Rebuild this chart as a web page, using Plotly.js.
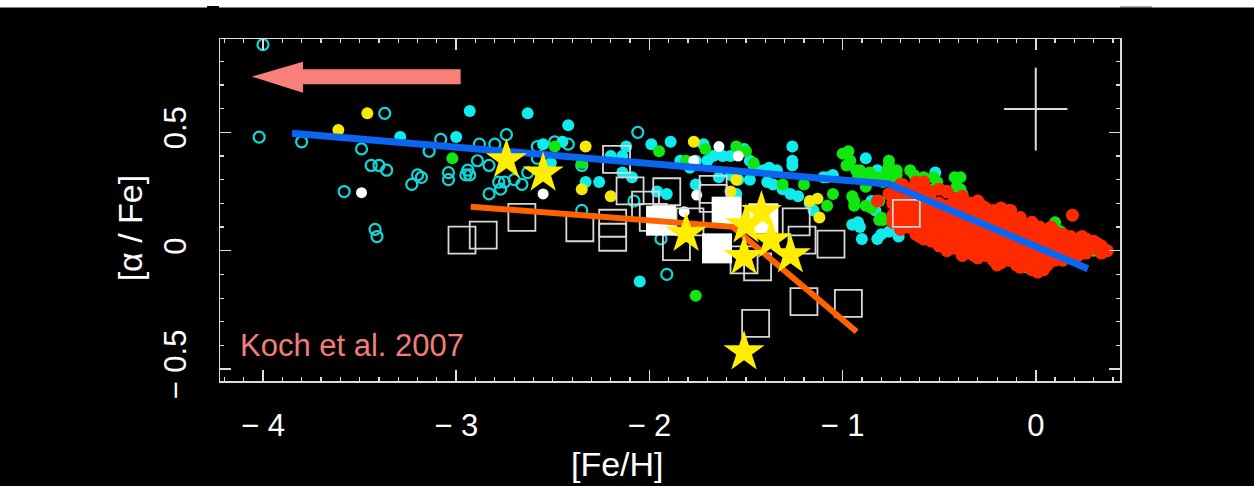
<!DOCTYPE html>
<html>
<head>
<meta charset="utf-8">
<script src="https://cdn.plot.ly/plotly-3.0.1.min.js"></script>
<style>html,body{margin:0;padding:0;background:#000;}#chart{width:1254px;height:486px;}</style>
</head>
<body>
<div id="chart"></div>
<script>
// ---- data ----
const xTickVals = [-4, -3, -2, -1, 0];
const xTickText = ['\u2212 4', '\u2212 3', '\u2212 2', '\u2212 1', '0'];
const yTickVals = [-0.5, 0, 0.5];
const yTickText = ['\u2212 0.5', '0', '0.5'];

const cyanOpen = [[-4.00,0.87],[-4.02,0.48],[-3.80,0.46],[-3.37,0.58],[-3.49,0.43],[-3.44,0.36],[-3.40,0.36],[-3.36,0.34],[-3.58,0.25],[-3.42,0.09],[-3.41,0.06],[-3.14,0.42],[-3.08,0.47],[-3.20,0.32],[-3.18,0.31],[-3.23,0.28],[-3.04,0.33],[-3.04,0.30],[-2.94,0.34],[-2.93,0.32],[-2.95,0.32],[-2.89,0.38],[-2.88,0.45],[-2.80,0.45],[-2.74,0.49],[-2.83,0.36],[-2.83,0.24],[-2.77,0.26],[-2.78,0.29],[-2.75,0.29],[-2.70,0.30],[-2.66,0.28],[-2.63,0.33],[-2.58,0.39],[-2.58,0.44],[-2.49,0.46],[-2.42,0.45],[-2.35,0.17],[-2.35,0.36],[-2.08,0.21],[-2.06,0.50],[-1.94,0.05],[-1.91,-0.10]];

const cyanFilled = [[-2.93,0.59],[-2.63,0.58],[-2.42,0.53],[-3.00,0.48],[-3.29,0.48],[-2.55,0.45],[-2.45,0.46],[-2.51,0.37],[-2.33,0.29],[-2.26,0.29],[-2.20,0.40],[-2.14,0.40],[-2.12,0.44],[-2.14,0.33],[-2.09,0.31],[-1.99,0.45],[-1.89,0.46],[-1.96,0.25],[-1.91,0.24],[-1.84,0.38],[-1.79,0.35],[-1.76,0.38],[-1.76,0.28],[-1.72,0.45],[-1.70,0.38],[-1.67,0.40],[-1.64,0.41],[-1.62,0.40],[-1.64,0.31],[-1.58,0.32],[-1.58,0.40],[-1.55,0.24],[-1.54,0.30],[-1.51,0.43],[-1.48,0.38],[-1.48,0.30],[-1.46,0.36],[-1.41,0.34],[-1.38,0.35],[-1.39,0.29],[-1.36,0.28],[-1.34,0.34],[-1.31,0.26],[-1.27,0.24],[-1.23,0.23],[-1.26,0.44],[-1.26,0.38],[-1.26,0.36],[-1.10,0.31],[-1.05,0.32],[-1.08,0.31],[-1.17,0.20],[-1.15,0.17],[-0.88,0.39],[-0.82,0.34],[-0.85,0.21],[-0.83,0.17],[-0.95,0.11],[-0.92,0.12],[-0.91,0.10],[-0.90,0.05],[-0.82,0.05],[-0.80,0.07],[-0.76,0.08],[-0.71,0.06],[-0.52,0.33],[-2.05,-0.13]];

const yellowFilled = [[-3.46,0.58],[-3.61,0.51],[-2.33,0.44],[-2.35,0.26],[-2.20,0.23],[-1.77,0.46],[-1.55,0.30],[-1.58,0.25],[-1.17,0.21],[-1.13,0.22],[-1.12,0.14]];

const greenFilled = [[-3.02,0.39],[-2.49,0.44],[-2.35,0.37],[-1.95,0.42],[-1.81,0.38],[-1.71,0.43],[-1.55,0.44],[-1.50,0.42],[-1.46,0.37],[-1.31,0.28],[-1.20,0.28],[-1.05,0.24],[-1.08,0.19],[-1.76,-0.19],[-1.00,0.41],[-0.97,0.42],[-0.96,0.38],[-0.98,0.36],[-0.91,0.34],[-0.92,0.31],[-0.86,0.33],[-0.82,0.31],[-0.76,0.38],[-0.76,0.36],[-0.72,0.34],[-0.74,0.31],[-0.78,0.31],[-0.65,0.34],[-0.63,0.32],[-0.58,0.31],[-0.53,0.31],[-0.51,0.29],[-0.53,0.26],[-0.57,0.24],[-0.42,0.31],[-0.41,0.27],[-0.39,0.26],[-0.38,0.24],[-0.39,0.31],[-0.95,0.23],[-0.94,0.19],[-0.88,0.19],[-0.85,0.18],[-0.81,0.13],[-0.65,0.17],[-0.62,0.07],[-0.19,0.14],[-0.17,0.12],[-0.31,0.19],[0.10,0.12],[0.11,0.09],[0.30,0.00],[0.06,-0.04],[-0.93,0.34],[-0.90,0.32],[-0.88,0.27],[-0.86,0.30],[-0.77,0.34],[-0.72,0.32],[-0.79,0.29],[-0.94,0.21],[-0.80,0.14],[-0.81,0.21],[-0.73,0.16],[-0.24,0.14],[-0.12,0.09],[0.02,-0.03],[-0.50,0.13],[-0.51,0.17],[-0.79,0.13],[-0.45,0.02],[-0.30,-0.02],[0.13,0.08],[0.29,0.01],[-0.05,-0.07],[0.00,-0.06]];

const redFilled = [[-0.74,0.24],[-0.74,0.20],[-0.74,0.15],[-0.74,0.12],[-0.70,0.28],[-0.70,0.22],[-0.70,0.17],[-0.70,0.13],[-0.70,0.09],[-0.66,0.26],[-0.66,0.21],[-0.66,0.18],[-0.66,0.14],[-0.66,0.10],[-0.62,0.29],[-0.62,0.24],[-0.62,0.20],[-0.62,0.16],[-0.62,0.12],[-0.62,0.07],[-0.58,0.27],[-0.58,0.22],[-0.58,0.18],[-0.58,0.13],[-0.58,0.09],[-0.58,0.05],[-0.54,0.25],[-0.54,0.21],[-0.54,0.17],[-0.54,0.12],[-0.54,0.08],[-0.54,0.04],[-0.50,0.26],[-0.50,0.20],[-0.50,0.15],[-0.50,0.11],[-0.50,0.07],[-0.50,0.02],[-0.46,0.25],[-0.46,0.19],[-0.46,0.16],[-0.46,0.12],[-0.46,0.08],[-0.46,0.03],[-0.46,0.00],[-0.42,0.22],[-0.42,0.18],[-0.42,0.14],[-0.42,0.10],[-0.42,0.06],[-0.42,0.01],[-0.38,0.23],[-0.38,0.17],[-0.38,0.13],[-0.38,0.09],[-0.38,0.05],[-0.38,0.00],[-0.38,-0.02],[-0.34,0.20],[-0.34,0.15],[-0.34,0.11],[-0.34,0.07],[-0.34,0.03],[-0.34,-0.01],[-0.30,0.21],[-0.30,0.16],[-0.30,0.12],[-0.30,0.08],[-0.30,0.04],[-0.30,0.00],[-0.30,-0.03],[-0.26,0.18],[-0.26,0.13],[-0.26,0.09],[-0.26,0.05],[-0.26,0.01],[-0.26,-0.02],[-0.22,0.17],[-0.22,0.12],[-0.22,0.08],[-0.22,0.04],[-0.22,0.00],[-0.22,-0.04],[-0.18,0.18],[-0.18,0.14],[-0.18,0.10],[-0.18,0.06],[-0.18,0.02],[-0.18,-0.02],[-0.18,-0.05],[-0.14,0.17],[-0.14,0.12],[-0.14,0.08],[-0.14,0.04],[-0.14,0.00],[-0.14,-0.04],[-0.10,0.13],[-0.10,0.09],[-0.10,0.05],[-0.10,0.01],[-0.10,-0.03],[-0.10,-0.06],[-0.06,0.11],[-0.06,0.07],[-0.06,0.03],[-0.06,-0.01],[-0.06,-0.05],[-0.02,0.12],[-0.02,0.08],[-0.02,0.04],[-0.02,0.00],[-0.02,-0.04],[-0.02,-0.08],[0.02,0.10],[0.02,0.06],[0.02,0.02],[0.02,-0.02],[0.02,-0.06],[0.01,-0.09],[0.06,0.09],[0.06,0.05],[0.06,0.01],[0.06,-0.03],[0.06,-0.06],[0.10,0.08],[0.10,0.04],[0.10,0.00],[0.10,-0.04],[0.14,0.07],[0.14,0.03],[0.14,-0.01],[0.14,-0.04],[0.18,0.06],[0.18,0.02],[0.18,-0.02],[0.22,0.05],[0.22,0.01],[0.22,-0.02],[0.26,0.05],[0.26,0.02],[0.26,-0.01],[0.30,0.04],[0.30,0.01],[0.34,0.02],[0.34,-0.01],[0.37,0.00],[0.19,0.15],[-0.13,0.17],[-0.46,0.25],[-0.58,0.29],[-0.82,0.21],[-0.76,0.24],[-0.69,0.28],[-0.60,0.06],[-0.44,0.03],[-0.32,-0.02],[-0.20,-0.06],[-0.08,-0.07],[0.04,-0.08],[-0.28,0.19],[-0.40,0.20],[-0.08,0.14],[0.08,0.10],[0.24,0.06],[0.32,0.03]];

const whiteFilled = [[-3.49,0.245],[-2.55,0.24],[-1.64,0.44],[-1.54,0.40],[-1.77,0.38],[-1.755,0.235],[-1.82,0.165]];

const squaresOpen = [[-2.97,0.045],[-2.86,0.066],[-2.66,0.141],[-2.36,0.097],[-2.17,0.386],[-2.10,0.253],[-2.19,0.116],[-2.19,0.057],[-2.02,0.193],[-1.98,0.141],[-1.91,0.249],[-1.67,0.259],[-1.67,0.221],[-1.86,0.017],[-1.79,0.122],[-1.51,-0.039],[-1.44,-0.068],[-1.24,0.122],[-1.21,0.045],[-1.06,0.028],[-1.20,-0.215],[-0.97,-0.222],[-1.45,-0.307],[-0.67,0.158]];

const squaresFilled = [[-1.94,0.127],[-1.60,0.165],[-1.65,0.01],[-1.41,0.137]];

const stars = [[-2.74,0.383],[-2.55,0.327],[-1.81,0.073],[-1.51,-0.025],[-1.42,0.165],[-1.50,0.109],[-1.37,0.045],[-1.27,-0.018],[-1.51,-0.427]];

const blueLineX = [-3.85, -0.76, 0.27];
const blueLineY = [0.496, 0.282, -0.076];
const orangeLineX = [-2.925, -1.569, -0.927];
const orangeLineY = [0.186, 0.101, -0.342];

const errCrossX = [0];
const errCrossY = [0.598];
const errCrossDX = 0.164;
const errCrossDY = 0.175;

// ---- build ----
const xs = a => a.map(p => p[0]);
const ys = a => a.map(p => p[1]);
function pts(a, marker) {
  return {type: 'scatter', mode: 'markers', x: xs(a), y: ys(a), marker: marker, hoverinfo: 'skip'};
}

const traces = [
  pts(cyanOpen, {symbol: 'circle-open', size: 11, color: '#10d8d8', line: {width: 2.2}}),
  pts(cyanFilled, {symbol: 'circle', size: 12, color: '#10ecec', line: {width: 0}}),
  pts(yellowFilled, {symbol: 'circle', size: 12, color: '#f5ea00', line: {width: 0}}),
  pts(greenFilled, {symbol: 'circle', size: 12, color: '#10e610', line: {width: 0}}),
  pts(redFilled, {symbol: 'circle', size: 13, color: '#ff2a00', line: {width: 0}}),
  pts(whiteFilled, {symbol: 'circle', size: 11, color: '#ffffff', line: {width: 0}}),
  pts(squaresOpen, {symbol: 'square-open', size: 27, color: '#d8d8d8', line: {width: 1.8}}),
  pts(squaresFilled, {symbol: 'square', size: 30, color: '#ffffff', line: {width: 0}}),
  {type: 'scatter', mode: 'lines', x: blueLineX, y: blueLineY, line: {color: '#0a66f2', width: 7}, hoverinfo: 'skip'},
  {type: 'scatter', mode: 'lines', x: orangeLineX, y: orangeLineY, line: {color: '#ff6200', width: 6}, hoverinfo: 'skip'},
  pts(stars, {symbol: 'star', size: 31, color: '#ffee00', line: {width: 0}}),
  {type: 'scatter', mode: 'markers', x: errCrossX, y: errCrossY, marker: {size: 1, color: 'rgba(0,0,0,0)'},
   error_x: {type: 'constant', value: errCrossDX, width: 0, color: '#dddddd', thickness: 2},
   error_y: {type: 'constant', value: errCrossDY, width: 0, color: '#dddddd', thickness: 2}, hoverinfo: 'skip'}
];

const FONT = 'Liberation Sans, Arial, Helvetica, sans-serif';
const axisCommon = {
  showline: true, linecolor: '#dcdcdc', linewidth: 1.5, mirror: 'ticks',
  ticks: 'inside', ticklen: 11, tickwidth: 1.5, tickcolor: '#dcdcdc',
  showgrid: false, zeroline: false, tickmode: 'array',
  tickfont: {family: FONT, size: 31, color: '#ffffff'}
};

const layout = {
  width: 1254, height: 486,
  margin: {l: 220, r: 134, t: 39, b: 105, pad: 0},
  paper_bgcolor: '#000000', plot_bgcolor: '#000000',
  showlegend: false,
  xaxis: Object.assign({}, axisCommon, {
    range: [-4.2226, 0.436], tickvals: xTickVals, ticktext: xTickText,
    ticklabelstandoff: 16,
    minor: {dtick: 0.1, tick0: 0, ticks: 'inside', ticklen: 4, tickwidth: 1.2, tickcolor: '#dcdcdc'}
  }),
  yaxis: Object.assign({}, axisCommon, {
    range: [-0.550, 0.894], tickvals: yTickVals, ticktext: yTickText, tickangle: -90,
    ticklabelstandoff: 20,
    minor: {dtick: 0.1, tick0: 0, ticks: 'inside', ticklen: 4, tickwidth: 1.2, tickcolor: '#dcdcdc'}
  }),
  annotations: [
    {xref: 'paper', yref: 'paper', x: 0.442, y: -0.243, text: '[Fe/H]', showarrow: false,
     xanchor: 'center', yanchor: 'middle', font: {family: FONT, size: 34, color: '#ffffff'}},
    {xref: 'paper', yref: 'paper', x: -0.099, y: 0.449, text: '[\u03b1 / Fe]', showarrow: false, textangle: -90,
     xanchor: 'center', yanchor: 'middle', font: {family: FONT, size: 34, color: '#ffffff'}},
    {xref: 'paper', yref: 'paper', x: 0.02, y: 0.104, text: 'Koch et al. 2007', showarrow: false,
     xanchor: 'left', yanchor: 'middle', font: {family: FONT, size: 31, color: '#f27e78'}}
  ],
  shapes: [
    {type: 'path', xref: 'x', yref: 'y', layer: 'above',
     path: 'M -2.977 0.766 L -3.793 0.766 L -3.793 0.798 L -4.058 0.735 L -3.793 0.667 L -3.793 0.703 L -2.977 0.703 Z',
     fillcolor: '#f98079', line: {width: 0}},
    {type: 'rect', xref: 'paper', yref: 'paper', x0: -0.26, x1: 1.16, y0: 1.0921, y1: 1.13,
     fillcolor: '#ffffff', line: {width: 0}},
    {type: 'rect', xref: 'paper', yref: 'paper', x0: -0.0144, x1: -0.0011, y0: 1.0877, y1: 1.0965,
     fillcolor: '#000000', line: {width: 0}},
    {type: 'rect', xref: 'paper', yref: 'paper', x0: 1.0, x1: 1.0356, y0: 1.0906, y1: 1.0950,
     fillcolor: '#555555', line: {width: 0}}
  ]
};

Plotly.newPlot('chart', traces, layout, {staticPlot: true, displayModeBar: false});
</script>
</body>
</html>
